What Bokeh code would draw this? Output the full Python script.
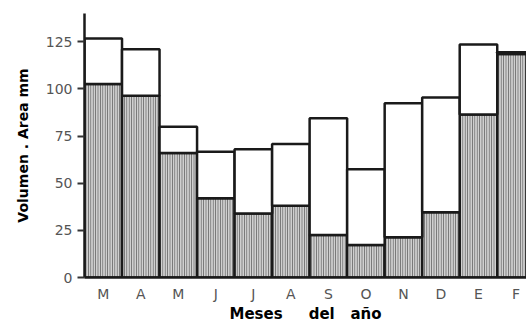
from bokeh.plotting import figure
from bokeh.models import FixedTicker, Title, Range1d
from bokeh.embed import file_html
from bokeh.resources import INLINE

months = ["M", "A", "M", "J", "J", "A", "S", "O", "N", "D", "E", "F"]
hatched_part = [102.6, 96.4, 66, 42, 34, 38, 22.5, 17.2, 21.3, 34.6, 86.5, 118.5]
total = [126.8, 121, 80, 66.7, 68, 70.8, 84.4, 57.4, 92.4, 95.5, 123.6, 119.5]
y_ticks = [0, 25, 50, 75, 100, 125]

xs = list(range(len(months)))

p = figure(width=526, height=325, output_backend="svg", toolbar_location=None,
           x_range=Range1d(-0.5, 11.28), y_range=Range1d(0, 140.0),
           min_border_left=83, min_border_right=0, min_border_top=13, min_border_bottom=48)
p.outline_line_color = None
p.grid.visible = False
p.background_fill_color = "white"
p.border_fill_color = "white"

p.vbar(x=xs, bottom=0, top=hatched_part, width=1,
       fill_color="#d0d0d0", hatch_pattern="|", hatch_color="#606060",
       hatch_scale=2.4, hatch_weight=1,
       line_color="#1a1a1a", line_width=2.5)
p.vbar(x=xs, bottom=hatched_part, top=total, width=1,
       fill_color="white", line_color="#1a1a1a", line_width=2.5)

ya = p.yaxis[0]
ya.ticker = FixedTicker(ticks=y_ticks)
ya.major_tick_out = 7
ya.major_tick_in = 0
ya.minor_tick_out = 0
ya.minor_tick_in = 0
ya.axis_line_width = 2.5
ya.axis_line_color = "#1a1a1a"
ya.major_tick_line_width = 2
ya.major_tick_line_color = "#333333"
ya.major_label_text_font = "DejaVu Sans"
ya.major_label_text_font_size = "14px"
ya.major_label_text_color = "#555555"
ya.major_label_standoff = 5

xa = p.xaxis[0]
xa.ticker = FixedTicker(ticks=xs)
xa.major_label_overrides = {i: m for i, m in zip(xs, months)}
xa.major_tick_out = 0
xa.major_tick_in = 0
xa.minor_tick_out = 0
xa.minor_tick_in = 0
xa.axis_line_width = 2.5
xa.axis_line_color = "#1a1a1a"
xa.major_label_text_font = "DejaVu Sans"
xa.major_label_text_font_size = "14px"
xa.major_label_text_color = "#555555"
xa.major_label_standoff = 8
xa.axis_label = "Meses\u00a0\u00a0\u00a0\u00a0\u00a0del\u00a0\u00a0\u00a0año"
xa.axis_label_text_font = "DejaVu Sans"
xa.axis_label_text_font_size = "15px"
xa.axis_label_text_font_style = "bold"
xa.axis_label_text_color = "black"
xa.axis_label_standoff = 0

t = Title(text="Volumen . Area mm", align="center", offset=20, standoff=24,
          text_font="DejaVu Sans", text_font_size="14px", text_font_style="bold",
          text_color="black")
p.add_layout(t, "left")

open("out.html", "w").write(file_html(p, INLINE))
